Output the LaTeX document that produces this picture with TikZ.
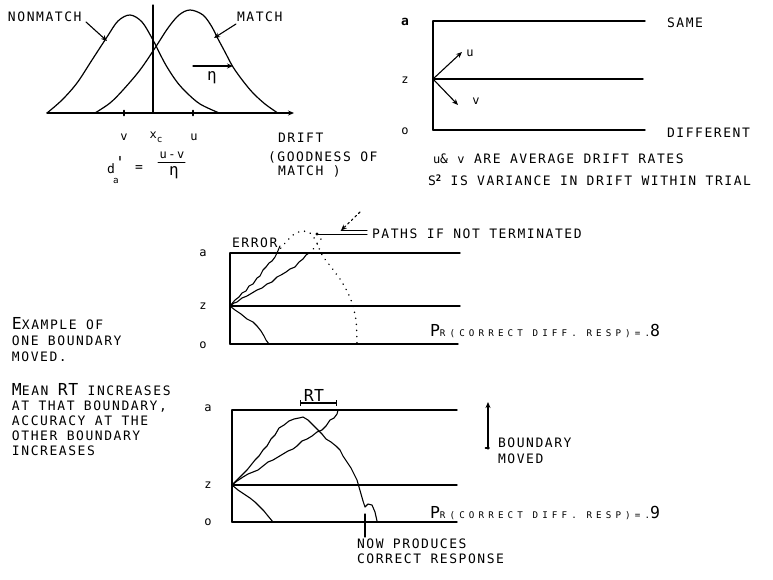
\documentclass[tikz,border=0pt]{standalone}
\usepackage{fontspec}
\usetikzlibrary{arrows.meta}
\newfontfamily\twA[LetterSpace=12]{DejaVu Sans Mono}
\newfontfamily\twB[LetterSpace=3]{DejaVu Sans Mono}
\newfontfamily\twC[LetterSpace=45]{DejaVu Sans Mono}
\newcommand\freg{\twA\fontsize{13}{15}\selectfont}
\newcommand\fbig{\twB\fontsize{16.5}{18}\selectfont}
\newcommand\fsc{\twC\fontsize{9.2}{10}\selectfont}
\newcommand\flow{\twA\fontsize{12}{13}\selectfont}
\newcommand\feta{\twB\fontsize{16}{18}\selectfont}
\begin{document}
\begin{tikzpicture}[x=1pt,y=-1pt,line cap=round,line join=round,
  every node/.style={inner sep=0pt,outer sep=0pt},
  txt/.style={anchor=base west,font=\freg},
  lbl/.style={anchor=center,font=\flow},
  bnd/.style={line width=1.4pt},
  crv/.style={line width=1.2pt},
  wig/.style={line width=1.1pt},
  dots/.style={line width=1.6pt,dash pattern=on 0.1pt off 6pt},
  arr/.style={-{Stealth[length=6pt,width=5pt]},line width=1.1pt}]
\useasboundingbox (0,0) rectangle (773,579);
% ---------------- top left: distributions
\coordinate (ax0) at (47,113); \coordinate (ax1) at (294,113);
\draw[arr] (ax0) -- (ax1);
\coordinate (xct) at (153,5); \coordinate (xcb) at (153,113);
\draw[crv] (xct) -- (xcb);
\draw[line width=1.6pt] (124,110.5) -- (124,115.5) (193,110.5) -- (193,115.5);
\draw[crv] plot[smooth,tension=0.55] coordinates {(47,113)(62,100)(77,83)(92,60)(107,37)(118,21)(130,15)(142,22)(153,40)(160,54)(167,67)(177,82)(187,93)(200,104)(218,112.5)};
\draw[crv] plot[smooth,tension=0.55] coordinates {(95,113)(110,103)(123,90)(140,70)(155,48)(168,28)(179,15)(190,10)(203,15)(212,27)(217,37)(225,52)(233,67)(243,81)(253,93)(265,104)(277,112.5)};
\node[txt] (nonmatch) at (8,21) {NONMATCH};
\coordinate (nmA) at (86,22); \coordinate (nmB) at (107,41);
\draw[arr] (nmA) -- (nmB);
\node[txt] (match) at (237,21) {MATCH};
\coordinate (mA) at (236,24); \coordinate (mB) at (214,38);
\draw[arr] (mA) -- (mB);
\coordinate (etaA) at (193,66); \coordinate (etaB) at (233,66);
\draw[arr] (etaA) -- (etaB);
\node[font=\feta] (eta) at (212,78) {η};
\node[lbl] (vlab) at (124,137) {v};
\node[lbl] (xclab) at (156,137) {x\raisebox{-4pt}{\fsc c}};
\node[lbl] (ulab) at (194,137) {u};
\node[txt] (drift) at (278,142) {DRIFT};
\node[txt] (good) at (268,161) {(GOODNESS OF};
\node[txt] (match2) at (278,175) {MATCH )};
\node[anchor=base west,font=\freg] (dd) at (107,173) {d};
\node[anchor=base west,font=\fbig] (dp) at (115,168) {'};
\node[anchor=base west,font=\fsc] (da) at (113,183) {a};
\node[font=\freg] (eq) at (139,169) {=};
\node[font=\flow] (uv) at (172,155) {u-v};
\coordinate (fb1) at (158,162); \coordinate (fb2) at (185,162);
\draw[line width=1pt] (fb1) -- (fb2);
\node[font=\feta] (eta2) at (174,173) {η};
% ---------------- top right: boundaries
\coordinate (ta0) at (433,21); \coordinate (ta1) at (645,21);
\coordinate (tz0) at (433,79); \coordinate (tz1) at (643,79);
\coordinate (to0) at (433,130); \coordinate (to1) at (645,130);
\draw[bnd] (ta0) -- (ta1);
\draw[bnd] (tz0) -- (tz1);
\draw[bnd] (to0) -- (to1);
\draw[bnd] (ta0) -- (to0);
\coordinate (uT) at (462,52); \coordinate (vT) at (458,105);
\draw[arr] (tz0) -- (uT);
\draw[arr] (tz0) -- (vT);
\node[lbl] (ua) at (470,53) {u};
\node[lbl] (va) at (476,101) {v};
\node[lbl,font=\freg\bfseries] (la1) at (405,22) {a};
\node[lbl] (lz1) at (405,80) {z};
\node[lbl] (lo1) at (405,131) {o};
\node[txt] (same) at (667,27) {SAME};
\node[txt] (diff) at (667,137) {DIFFERENT};
\node[txt] (uvt) at (433,163) {{\flow u}\& {\flow v} ARE AVERAGE DRIFT RATES};
\node[txt] (s2) at (428,185) {S\raisebox{4pt}{\fontsize{9}{10}\selectfont\bfseries 2} IS VARIANCE IN DRIFT WITHIN TRIAL};
% ---------------- middle: paths
\coordinate (ma0) at (230,253); \coordinate (ma1) at (460,253);
\coordinate (mz0) at (230,306); \coordinate (mz1) at (460,306);
\coordinate (mo0) at (230,344); \coordinate (mo1) at (458,344);
\draw[bnd] (ma0) -- (ma1);
\draw[bnd] (mz0) -- (mz1);
\draw[bnd] (mo0) -- (mo1);
\draw[bnd] (ma0) -- (mo0);
\node[lbl] (la2) at (203,253) {a};
\node[lbl] (lz2) at (203,306) {z};
\node[lbl] (lo2) at (203,345) {o};
\draw[wig] plot coordinates {(mz0)(235,300)(239,297)(242,293)(246,291)(249,286)(253,284)(257,278)(260,276)(263,270)(266,267)(269,263)(272,261)(275,257)(277,253)};
\draw[wig] plot coordinates {(mz0)(234,303)(237,302)(242,298)(247,296)(252,293)(257,290)(262,288)(267,284)(272,282)(277,277)(281,275)(286,272)(290,269)(295,267)(299,262)(303,259)(306,255)(309,253)};
\draw[wig] plot coordinates {(mz0)(235,310)(241,314)(247,319)(253,322)(257,326)(261,331)(264,336)(266,340)(269,344)};
\draw[dots] plot[smooth] coordinates {(277,253)(285,243)(293,235)(302,231)(310,233)(316,241)(322,255)(331,267)(340,279)(347,291)(352,303)(356,320)(357,343)};
\draw[dots] plot[smooth] coordinates {(309,253)(315,247)(321,239)};
\node[txt] (error) at (232,247) {ERROR};
\coordinate (errA) at (280,246); \coordinate (errB) at (277,253);
\draw[line width=1pt] (errA) -- (errB);
\coordinate (pTip) at (317,234); \coordinate (pEnd) at (367,234);
\draw[line width=1pt] (pTip) -- (pEnd);
\fill (pTip) circle (1.6pt);
\coordinate (dblA) at (341,230.5); \coordinate (dblB) at (367,230.5);
\draw[line width=1pt] (dblA) -- (dblB);
\coordinate (dashTop) at (360,212);
\draw[line width=1.1pt,dash pattern=on 2pt off 3pt,-{Stealth[length=6pt,width=5pt]}] (dashTop) -- (dblA);
\node[txt] (paths) at (372,238) {PATHS IF NOT TERMINATED};
\node[anchor=base west] (pr8) at (430,336) {{\fbig P}{\fsc R(CORRECT DIFF. RESP)=.}{\fbig 8}};
% ---------------- left text
\node[txt] (t1) at (12,329) {{\fbig E}XAMPLE OF};
\node[txt] (t2) at (12,345) {ONE BOUNDARY};
\node[txt] (t3) at (12,361) {MOVED.};
\node[txt] (t4) at (12,395) {{\fbig M}EAN {\fbig RT} INCREASES};
\node[txt] (t5) at (12,410) {AT THAT BOUNDARY,};
\node[txt] (t6) at (12,425) {ACCURACY AT THE};
\node[txt] (t7) at (12,440) {OTHER BOUNDARY};
\node[txt] (t8) at (12,455) {INCREASES};
% ---------------- lower: boundary moved
\coordinate (la0) at (232,410); \coordinate (la1s) at (457,410);
\coordinate (lz0) at (232,485); \coordinate (lz1s) at (457,485);
\coordinate (lo0) at (232,522); \coordinate (lo1s) at (457,522);
\draw[bnd] (la0) -- (la1s);
\draw[bnd] (lz0) -- (lz1s);
\draw[bnd] (lo0) -- (lo1s);
\draw[bnd] (la0) -- (lo0);
\node[lbl] (la3) at (208,408) {a};
\node[lbl] (lz3) at (208,485) {z};
\node[lbl] (lo3) at (208,522) {o};
\draw[wig] plot coordinates {(lz0)(238,479)(243,474)(247,470)(251,465)(255,460)(259,456)(263,450)(267,446)(271,439)(275,435)(279,428)(284,425)(289,421)(294,419)(299,418)(303,417)(308,420)(312,424)(317,429)(322,434)(326,439)(331,442)(336,446)(340,450)(343,456)(347,462)(351,468)(354,474)(357,480)(359,487)(361,494)(363,501)(365,507)(368,504)(372,505)(375,512)(377,521)};
\draw[wig] plot coordinates {(lz0)(237,481)(243,477)(248,474)(253,472)(258,470)(263,466)(268,462)(273,460)(278,457)(283,454)(288,451)(293,449)(297,446)(302,441)(307,439)(312,436)(317,432)(322,430)(326,426)(330,420)(334,418)(337,414)(338,410)};
\draw[wig] plot coordinates {(lz0)(238,490)(244,494)(250,498)(255,502)(260,507)(264,511)(268,516)(273,522)};
\coordinate (nowA) at (365,514); \coordinate (nowB) at (365,537);
\draw[line width=1.1pt] (nowA) -- (nowB);
\node[txt] (now1) at (357,548) {NOW PRODUCES};
\node[txt] (now2) at (357,563) {CORRECT RESPONSE};
\coordinate (rtA) at (300,403); \coordinate (rtB) at (337,403);
\draw[line width=1.1pt,{Bar[width=6pt]}-{Bar[width=6pt]}] (rtA) -- (rtB);
\node[anchor=base,font=\fbig] (rt) at (314,401) {RT};
\coordinate (bmA) at (488,449); \coordinate (bmB) at (488,402);
\draw[arr,line width=1.3pt] (bmA) -- (bmB);
\draw[line width=1.8pt] (485.5,448) -- (489,448);
\node[txt] (bm1) at (498,447) {BOUNDARY};
\node[txt] (bm2) at (498,463) {MOVED};
\node[anchor=base west] (pr9) at (430,518) {{\fbig P}{\fsc R(CORRECT DIFF. RESP)=.}{\fbig 9}};
\end{tikzpicture}
\end{document}
